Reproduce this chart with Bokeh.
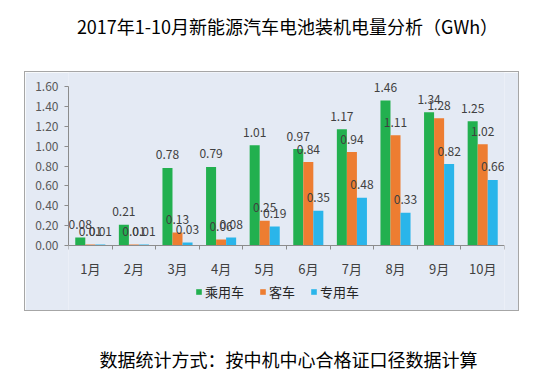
import numpy as np
from bokeh.plotting import figure
from bokeh.layouts import column, row
from bokeh.models import (ColumnDataSource, FixedTicker, Label, Legend,
                          LegendItem, Range1d, Spacer, PrintfTickFormatter,
                          LinearAxis)
from bokeh.core.properties import value
from bokeh.embed import file_html
from bokeh.resources import INLINE

months = ["1月", "2月", "3月", "4月", "5月", "6月", "7月", "8月", "9月", "10月"]
passenger = [0.08, 0.21, 0.78, 0.79, 1.01, 0.97, 1.17, 1.46, 1.34, 1.25]
bus = [0.01, 0.01, 0.13, 0.06, 0.25, 0.84, 0.94, 1.11, 1.28, 1.02]
special = [0.01, 0.01, 0.03, 0.08, 0.19, 0.35, 0.48, 0.33, 0.82, 0.66]
series_names = ["乘用车", "客车", "专用车"]
y_ticks = [0.0, 0.2, 0.4, 0.6, 0.8, 1.0, 1.2, 1.4, 1.6]

title_text = "2017年1-10月新能源汽车电池装机电量分析（GWh）"
footer_text = "数据统计方式：按中机中心合格证口径数据计算"

colors = ["#22B04F", "#ED7D31", "#2AB5EA"]
BOX_BG = "#E4EAF4"
BORDER = "#A6A6A6"
FONT = "Noto Sans CJK SC"


def text_strip(w, h, txt, cx, cy, size):
    f = figure(width=w, height=h, output_backend="svg", toolbar_location=None,
               x_range=Range1d(0, w), y_range=Range1d(h, 0),
               x_axis_type=None, y_axis_type=None, min_border=0)
    f.outline_line_color = None
    f.background_fill_color = "white"
    f.border_fill_color = "white"
    f.add_layout(Label(x=cx, y=cy, text=txt, text_align="center",
                       text_baseline="middle", text_font=FONT,
                       text_font_size=size, text_color="#000000"))
    return f


title_fig = text_strip(529, 71, title_text, 287, 25, "18px")
footer_fig = text_strip(529, 67, footer_text, 288, 47, "18px")

# chart frame: 238 px tall; axis 0..1.6 occupies 159 px starting 14 px below top
CH, TOP_PAD, AX_PX, Y_MAX = 238, 14, 159, 1.6
ppu = AX_PX / Y_MAX
y_lo = -(CH - TOP_PAD - AX_PX) / ppu
y_hi = Y_MAX + TOP_PAD / ppu

p = figure(width=493, height=CH, output_backend="svg", toolbar_location=None,
           x_range=Range1d(0, len(months)), y_range=Range1d(y_lo, y_hi),
           x_axis_type=None,
           min_border_left=43, min_border_right=14, min_border_top=0,
           min_border_bottom=0)
p.background_fill_color = BOX_BG
p.border_fill_color = BOX_BG
p.outline_line_color = None
p.xgrid.visible = False
p.ygrid.visible = False

centers = np.arange(len(months)) + 0.5
bw = 0.23
offsets = [-bw, 0.0, bw]
items = []
for name, vals, col, off in zip(series_names, [passenger, bus, special], colors, offsets):
    src = ColumnDataSource(dict(x=centers + off, top=vals,
                                lbl=["%.2f" % v for v in vals]))
    r = p.vbar(x="x", top="top", bottom=0, width=bw, source=src,
               fill_color=col, line_color=None)
    p.text(x="x", y="top", text="lbl", source=src, text_align="center",
           text_baseline="middle", y_offset=-13, text_font=value(FONT),
           text_font_size="12px", text_color="#404040")
    items.append(LegendItem(label=name, renderers=[r]))

yax = p.yaxis[0]
yax.ticker = FixedTicker(ticks=y_ticks)
yax.bounds = (0, Y_MAX)
yax.formatter = PrintfTickFormatter(format="%.2f")
yax.major_label_text_font = FONT
yax.major_label_text_font_size = "12px"
yax.major_label_text_color = "#595959"
yax.major_tick_out = 4
yax.major_tick_in = 0
yax.minor_tick_out = 0
yax.minor_tick_in = 0
yax.major_label_standoff = 6
yax.axis_line_color = "#8C8C8C"
yax.major_tick_line_color = "#8C8C8C"

xax = LinearAxis(fixed_location=0,
                 ticker=FixedTicker(ticks=list(centers),
                                    minor_ticks=list(range(len(months) + 1))))
xax.major_label_overrides = {float(c): m for c, m in zip(centers, months)}
xax.major_label_text_font = FONT
xax.major_label_text_font_size = "13px"
xax.major_label_text_color = "#404040"
xax.major_tick_out = 0
xax.major_tick_in = 0
xax.minor_tick_out = 4
xax.minor_tick_in = 0
xax.major_label_standoff = 9
xax.axis_line_color = "#8C8C8C"
xax.minor_tick_line_color = "#8C8C8C"
p.add_layout(xax, "below")

legend = Legend(items=items, orientation="horizontal", location=(127, 9),
                glyph_width=7, glyph_height=7, label_standoff=3, spacing=15,
                padding=0, margin=0, label_height=16,
                label_text_font=FONT, label_text_font_size="13px",
                label_text_color="#262626", background_fill_alpha=0,
                border_line_color=None)
p.add_layout(legend, "center")


def bar(w, h):
    return Spacer(width=w, height=h, styles={"background-color": BORDER})


boxed = column(bar(495, 1), row(bar(1, CH), p, bar(1, CH)), bar(495, 1))
layout = column(title_fig, row(Spacer(width=24, height=CH + 2), boxed), footer_fig)

open("out.html", "w").write(file_html(layout, INLINE))
